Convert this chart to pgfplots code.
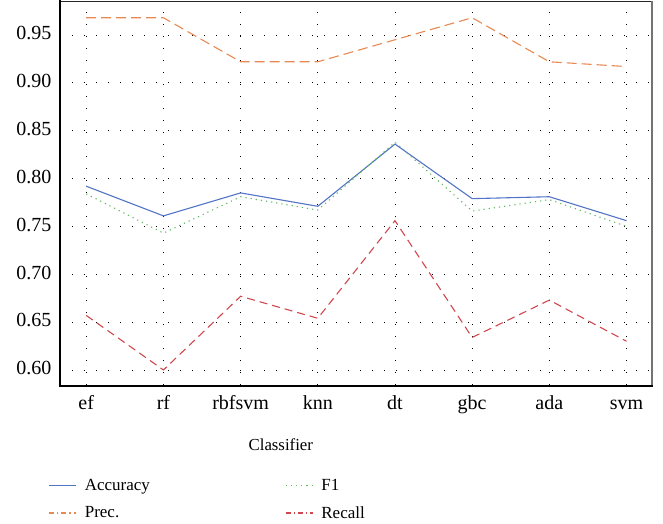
\documentclass[border=0pt]{standalone}
\usepackage{fontspec}
\setmainfont{Liberation Serif}
\usepackage{pgfplots}
\pgfplotsset{compat=1.18}
\definecolor{cacc}{RGB}{82,116,196}
\definecolor{cprec}{RGB}{232,137,82}
\definecolor{cf1}{RGB}{96,186,96}
\definecolor{crec}{RGB}{208,72,78}
\begin{document}
\begin{tikzpicture}
\useasboundingbox (-60pt,-138pt) rectangle (603pt,385pt);
\begin{axis}[
  scale only axis, width=592pt, height=384pt,
  xmin=-0.34, xmax=7.33, ymin=0.5843, ymax=0.9855,
  xtick={0,1,2,3,4,5,6,7},
  xticklabels={ef,rf,rbfsvm,knn,dt,gbc,ada,svm},
  ytick={0.60,0.65,0.70,0.75,0.80,0.85,0.90,0.95},
  yticklabel style={xshift=-5pt},
  y tick label style={/pgf/number format/fixed, /pgf/number format/fixed zerofill, /pgf/number format/precision=2},
  /pgf/number format/assume math mode=true,
  tick label style={font=\fontsize{20}{24}\selectfont},
  typeset ticklabels with strut,
  xticklabel style={yshift=-4pt},
  label style={font=\fontsize{16.8}{19}\selectfont},
  major tick length=0pt,
  grid=major,
  major grid style={black, line width=0.9pt, dash pattern=on 0.9pt off 11.1pt},
  axis line style={draw=none},
  xlabel={Classifier},
  xlabel style={at={(axis description cs:0.373,-0.156)}, anchor=center},
  legend columns=2,
  legend cell align=left,
  legend style={draw=none, fill=none, at={(-0.025,-0.234)}, anchor=north west,
    font=\fontsize{17}{19}\selectfont,
    row sep=10.5pt,
    /tikz/every odd column/.append style={column sep=6pt},
    /tikz/every even column/.append style={column sep=133pt}},
  legend image code/.code={\draw[#1, line width=1.4pt] (0cm,0cm) -- (0.95cm,0cm);},
]
\addplot[cacc, line width=1.1pt] coordinates {(0,0.792) (1,0.761) (2,0.785) (3,0.771) (4,0.836) (5,0.779) (6,0.781) (7,0.756)};
\addlegendentry{Accuracy}
\addplot[cf1, line width=1.1pt, dash pattern=on 1.2pt off 4pt] coordinates {(0,0.784) (1,0.743) (2,0.781) (3,0.767) (4,0.838) (5,0.766) (6,0.778) (7,0.750)};
\addlegendentry{F1}
\addplot[cprec, line width=1.1pt, dash pattern=on 10pt off 5pt, legend image post style={dash pattern=on 5pt off 3pt on 1.2pt off 3pt}] coordinates {(0,0.968) (1,0.968) (2,0.922) (3,0.922) (4,0.945) (5,0.968) (6,0.922) (7,0.917)};
\addlegendentry{Prec.}
\addplot[crec, line width=1.1pt, dash pattern=on 8pt off 5pt, legend image post style={dash pattern=on 5pt off 3pt on 1.2pt off 3pt}] coordinates {(0,0.657) (1,0.600) (2,0.677) (3,0.654) (4,0.756) (5,0.634) (6,0.673) (7,0.630)};
\addlegendentry{Recall}
\end{axis}
\draw[black!85, line width=0.9pt] (0,384pt) -- (592pt,384pt);
\draw[black!55, line width=2pt] (592pt,0) -- (592pt,384pt);
\draw[black, line width=1.6pt] (0,384.5pt) -- (0,-0.8pt) -- (592.5pt,-0.8pt);
\end{tikzpicture}
\end{document}
